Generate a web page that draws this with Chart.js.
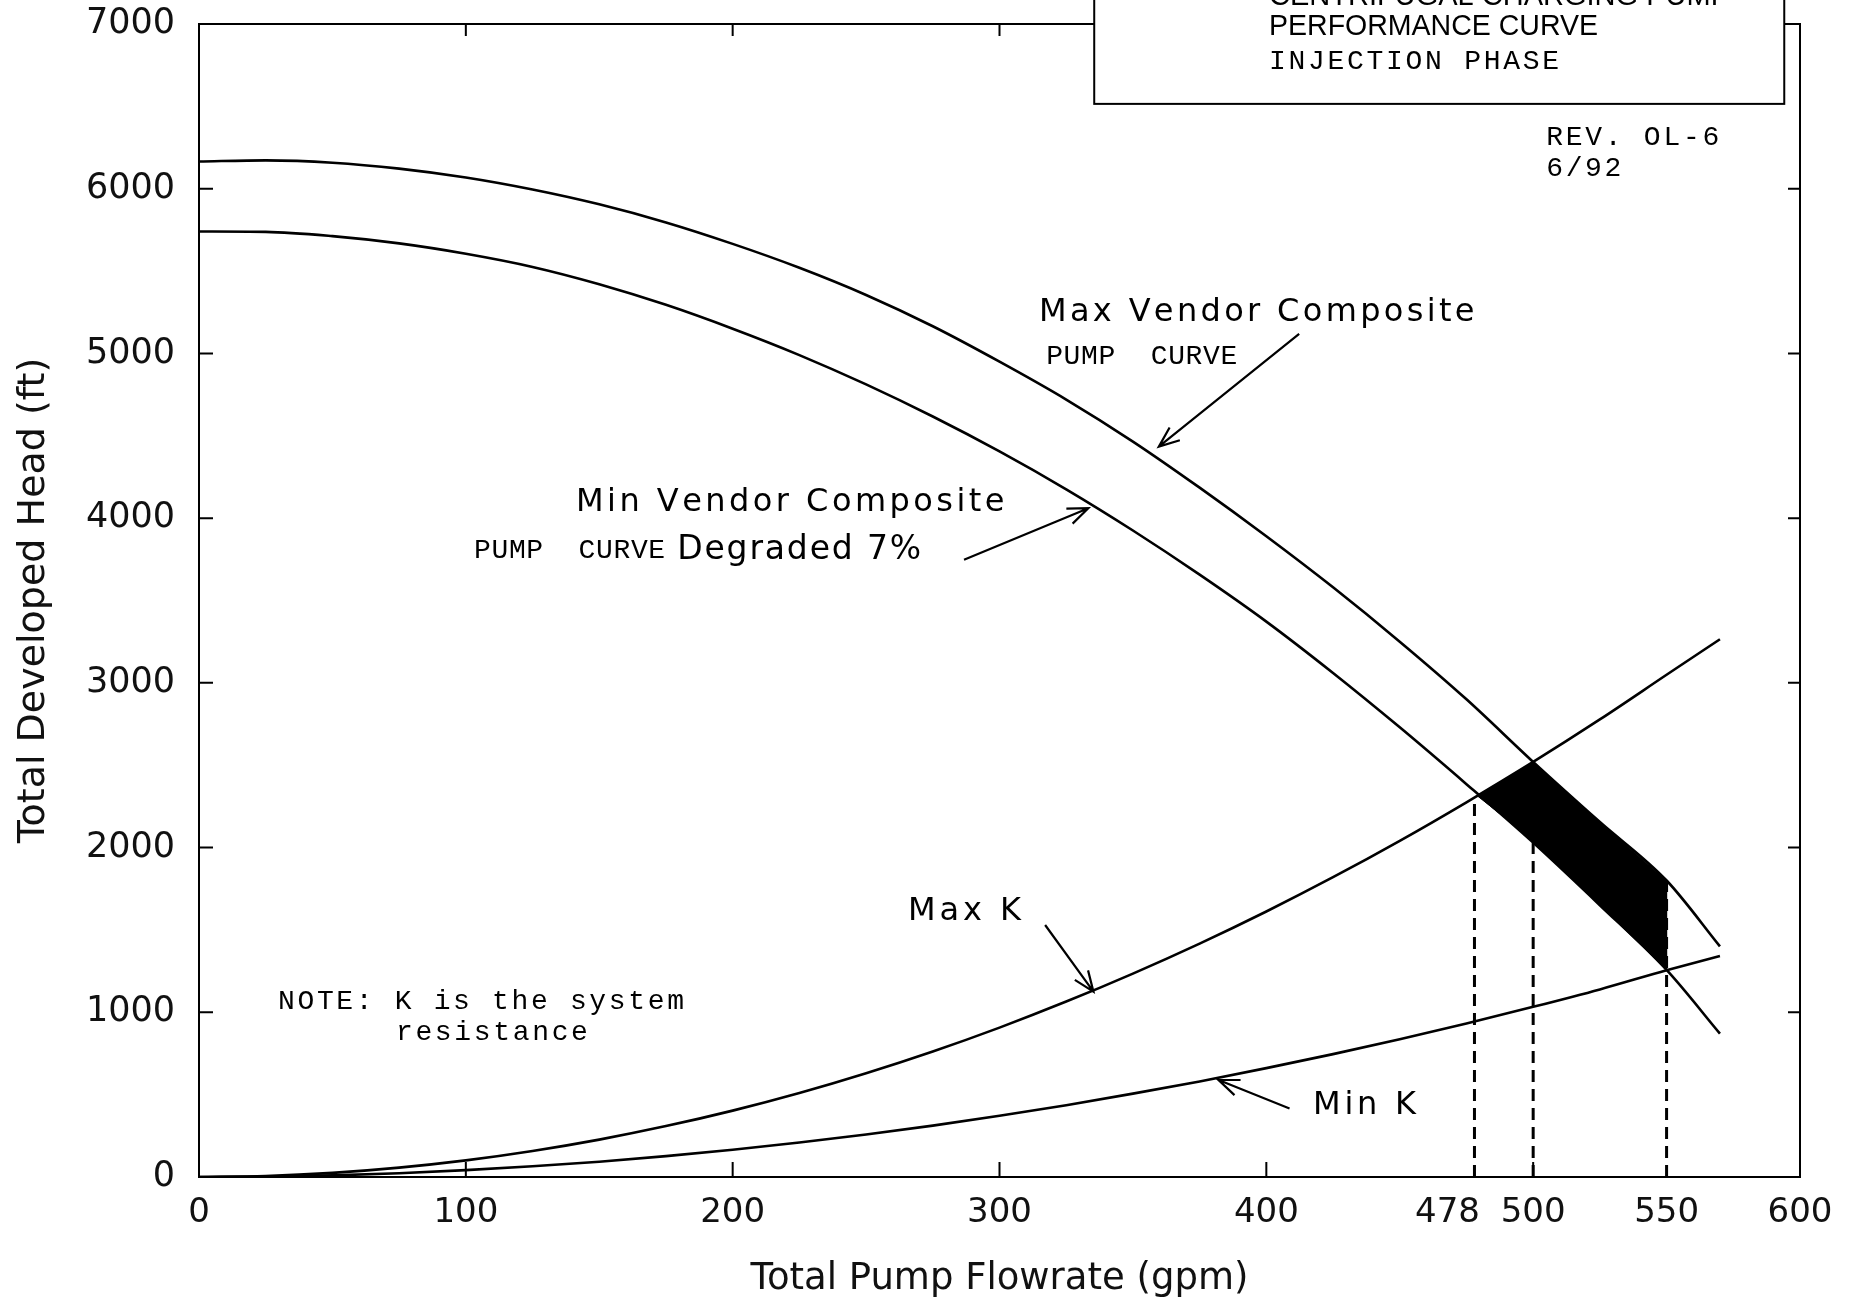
<!DOCTYPE html>
<html>
<head>
<meta charset="utf-8">
<title>Centrifugal Charging Pump Performance Curve - Injection Phase</title>
<script src="https://cdn.jsdelivr.net/npm/chart.js@4.4.1/dist/chart.umd.min.js"></script>
<style>
  html, body { margin: 0; padding: 0; background: #fff; }
</style>
</head>
<body>
<canvas id="chart" width="1855" height="1303"></canvas>
<script>
/* DATA */
const flow      = [0, 25, 50, 75, 100, 125, 150, 175, 200, 225, 250, 275, 300, 325, 350, 375, 400, 425, 450, 475, 500, 525, 550, 570];
const maxVendor = [6165, 6172, 6158, 6122, 6068, 5995, 5905, 5795, 5665, 5520, 5355, 5165, 4950, 4720, 4465, 4185, 3890, 3580, 3250, 2900, 2520, 2155, 1800, 1400];
const minVendor = [5740, 5738, 5712, 5668, 5605, 5525, 5420, 5295, 5150, 4990, 4812, 4617, 4405, 4175, 3925, 3657, 3372, 3060, 2730, 2385, 2030, 1650, 1257, 870];
const maxK      = [0, 6, 25, 57, 101, 158, 227, 309, 403, 510, 630, 762, 907, 1065, 1235, 1417, 1612, 1820, 2041, 2275, 2520, 2778, 3049, 3265];
const minK      = [0, 3, 10, 23, 42, 65, 93, 127, 165, 209, 258, 312, 372, 436, 506, 580, 661, 746, 836, 932, 1033, 1139, 1255, 1342];

// operating region (black): Max K 478->500, Max Vendor 500->550, down at 550, Min Vendor back to 478
const regionX = [479, 489, 500, 512, 525, 538, 550, 550, 538, 525, 512, 500, 489, 479];
const regionY = [2315, 2412, 2520, 2345, 2155, 1970, 1800, 1257, 1446, 1650, 1848, 2030, 2186, 2315];

// dashed drop lines
const dropX   = [478, 500, 550];
const dropTop = [2305, 2030, 1800];

// ticks
const xTickLabels = [0, 100, 200, 300, 400, 478, 500, 550, 600];
const xTickMarks  = [100, 200, 300, 400, 500];
const yTickLabels = [0, 1000, 2000, 3000, 4000, 5000, 6000, 7000];

const SANS = '"DejaVu Sans", "Noto Sans", sans-serif';
const MONO = '"Liberation Mono", "DejaVu Sans Mono", monospace';
const NARROW = '"Liberation Sans Narrow", "Liberation Sans", sans-serif';

// annotations: text, x (gpm), y (ft), font, width in px
const notes = [
  ['Max Vendor Composite', 314.8, 5246, '32px ' + SANS, 433],
  ['PUMP  CURVE', 317.5, 4979, '28px ' + MONO, 191],
  ['Min Vendor Composite', 141.3, 4092, '32px ' + SANS, 426],
  ['PUMP  CURVE', 103.1, 3801, '28px ' + MONO, 191],
  ['Degraded 7%', 179.2, 3801, '33px ' + SANS, 244],
  ['Max K', 265.7, 1609, '32px ' + SANS, 113],
  ['Min K', 417.5, 431, '32px ' + SANS, 103],
  ['NOTE: K is the system', 29.6, 1062, '28px ' + MONO, 406],
  ['resistance', 73.8, 874, '28px ' + MONO, 192],
  ['REV. OL-6', 504.9, 6308, '28px ' + MONO, 173],
  ['6/92', 504.9, 6120, '28px ' + MONO, 75]
];
// arrows: from (x,y) to tip (x,y)
const arrows = [
  [412.3, 5119, 359.7, 4434],
  [286.7, 3747, 333.3, 4060],
  [317.1, 1530, 335.2, 1125],
  [408.7, 416, 382.1, 589]
];
// title block (partly off the top of the sheet)
const titleBox = { x0: 335.5, x1: 594.1, y0: 6515, y1: 7200 };
const titleLines = [
  ['CENTRIFUGAL CHARGING PUMP', 401, 7165, '29px ' + NARROW, 461],
  ['PERFORMANCE CURVE', 401, 6982, '29px ' + NARROW, 329],
  ['INJECTION PHASE', 401, 6773, '28px ' + MONO, 290]
];

const pts = (xs, ys) => xs.map((x, i) => ({ x: x, y: ys[i] }));

function fitText(ctx, text, x, y, font, width) {
  ctx.save();
  ctx.font = font;
  ctx.textBaseline = 'middle';
  ctx.textAlign = 'left';
  ctx.fillStyle = '#000';
  const w = ctx.measureText(text).width;
  if (w >= width) {
    ctx.translate(x, y);
    ctx.scale(width / w, 1);
    ctx.fillText(text, 0, 0);
  } else {
    const gap = (width - w) / Math.max(text.length - 1, 1);
    let cx = x;
    for (const ch of text) {
      ctx.fillText(ch, cx, y);
      cx += ctx.measureText(ch).width + gap;
    }
  }
  ctx.restore();
}

function arrow(ctx, x1, y1, x2, y2) {
  const a = Math.atan2(y2 - y1, x2 - x1), len = 22, sp = 0.38;
  ctx.beginPath();
  ctx.moveTo(x1, y1); ctx.lineTo(x2, y2);
  ctx.moveTo(x2 - len * Math.cos(a - sp), y2 - len * Math.sin(a - sp));
  ctx.lineTo(x2, y2);
  ctx.lineTo(x2 - len * Math.cos(a + sp), y2 - len * Math.sin(a + sp));
  ctx.stroke();
}

const sheetPlugin = {
  id: 'sheet',
  afterDraw(chart) {
    const { ctx, chartArea: a, scales: { x, y } } = chart;
    ctx.save();
    ctx.strokeStyle = '#000';
    ctx.lineWidth = 2;
    ctx.strokeRect(a.left, a.top, a.right - a.left, a.bottom - a.top);
    ctx.beginPath();
    yTickLabels.slice(1, -1).forEach(v => {
      const py = y.getPixelForValue(v);
      ctx.moveTo(a.left, py); ctx.lineTo(a.left + 14, py);
      ctx.moveTo(a.right - 12, py); ctx.lineTo(a.right, py);
    });
    xTickMarks.forEach(v => {
      const px = x.getPixelForValue(v);
      ctx.moveTo(px, a.bottom); ctx.lineTo(px, a.bottom - 15);
      ctx.moveTo(px, a.top); ctx.lineTo(px, a.top + 12);
    });
    ctx.stroke();

    // title block
    const bx0 = x.getPixelForValue(titleBox.x0), bx1 = x.getPixelForValue(titleBox.x1);
    const by0 = y.getPixelForValue(titleBox.y0), by1 = y.getPixelForValue(titleBox.y1);
    ctx.fillStyle = '#fff';
    ctx.fillRect(bx0, by1, bx1 - bx0, by0 - by1);
    ctx.strokeRect(bx0, by1, bx1 - bx0, by0 - by1);
    titleLines.forEach(t => fitText(ctx, t[0], x.getPixelForValue(t[1]), y.getPixelForValue(t[2]), t[3], t[4]));

    notes.forEach(t => fitText(ctx, t[0], x.getPixelForValue(t[1]), y.getPixelForValue(t[2]), t[3], t[4]));
    ctx.lineWidth = 2.2;
    arrows.forEach(r => arrow(ctx, x.getPixelForValue(r[0]), y.getPixelForValue(r[1]),
                                   x.getPixelForValue(r[2]), y.getPixelForValue(r[3])));
    ctx.restore();
  }
};

const curve = (data) => ({
  data: data, borderColor: '#000', borderWidth: 2.6, pointRadius: 0,
  cubicInterpolationMode: 'monotone', fill: false
});

const datasets = [
  curve(pts(flow, maxVendor)),
  curve(pts(flow, minVendor)),
  curve(pts(flow, maxK)),
  curve(pts(flow, minK)),
  {
    data: pts(regionX, regionY), borderColor: '#000', borderWidth: 1,
    backgroundColor: '#000', pointRadius: 0, tension: 0, fill: 'shape'
  }
];
dropX.forEach((v, i) => datasets.push({
  data: [{ x: v, y: 0 }, { x: v, y: dropTop[i] }],
  borderColor: '#000', borderWidth: 3, borderDash: [12, 7], pointRadius: 0, fill: false
}));

new Chart(document.getElementById('chart'), {
  type: 'line',
  data: { datasets: datasets },
  options: {
    responsive: false,
    devicePixelRatio: 1,
    animation: false,
    events: [],
    layout: { padding: { left: 0, right: 55, top: 24, bottom: 0 } },
    plugins: { legend: { display: false }, tooltip: { enabled: false } },
    scales: {
      x: {
        type: 'linear', min: 0, max: 600,
        afterBuildTicks: s => { s.ticks = xTickLabels.map(v => ({ value: v })); },
        afterFit: s => { s.height = 126; },
        grid: { display: false, drawTicks: false },
        border: { display: false },
        ticks: {
          autoSkip: false, maxRotation: 0, padding: 16, color: '#111',
          font: { family: SANS, size: 34 },
          callback: v => v === 478 ? '478\u00a0\u00a0\u00a0\u00a0\u00a0' : String(v)
        },
        title: {
          display: true, text: 'Total Pump Flowrate (gpm)', color: '#111',
          font: { family: SANS, size: 37 }, padding: { top: 0, bottom: 1 }
        }
      },
      y: {
        type: 'linear', min: 0, max: 7000,
        afterBuildTicks: s => { s.ticks = yTickLabels.map(v => ({ value: v })); },
        afterFit: s => { s.width = 199; },
        grid: { display: false, drawTicks: true, tickLength: 21 },
        border: { display: false },
        ticks: {
          autoSkip: false, padding: 3, color: '#111', font: { family: SANS, size: 35 },
          callback: v => String(v)
        },
        title: {
          display: true, text: 'Total Developed Head (ft)', color: '#111',
          font: { family: SANS, size: 38 }, padding: { top: 11, bottom: 0 }
        }
      }
    }
  },
  plugins: [sheetPlugin]
});
</script>
</body>
</html>
